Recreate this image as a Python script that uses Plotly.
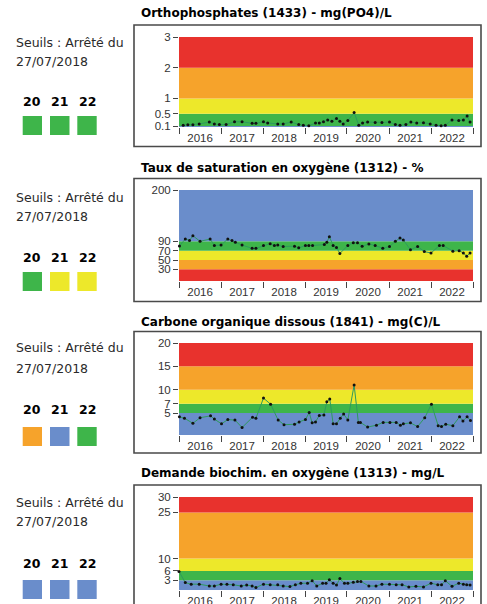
import plotly.graph_objects as go
import pandas as pd
import numpy as np

W, H = 487, 604

# ---------------- data (decimal years, values) ----------------
po4_t = [2016.10, 2016.21, 2016.33, 2016.48, 2016.72, 2016.84, 2016.96, 2017.12, 2017.32, 2017.50,
         2017.74, 2017.83, 2018.01, 2018.11, 2018.35, 2018.48, 2018.67, 2018.85, 2018.96, 2019.09,
         2019.25, 2019.34, 2019.44, 2019.54, 2019.64, 2019.75, 2019.83, 2019.91, 2020.02, 2020.17,
         2020.28, 2020.37, 2020.49, 2020.67, 2020.83, 2021.01, 2021.15, 2021.26, 2021.40, 2021.52,
         2021.66, 2021.82, 2021.98, 2022.12, 2022.24, 2022.34, 2022.50, 2022.66, 2022.77, 2022.86,
         2022.93]
po4_v = [0.13, 0.14, 0.14, 0.17, 0.23, 0.17, 0.15, 0.15, 0.24, 0.24,
         0.19, 0.19, 0.24, 0.20, 0.17, 0.17, 0.23, 0.15, 0.13, 0.11,
         0.20, 0.20, 0.24, 0.30, 0.26, 0.35, 0.26, 0.17, 0.28, 0.54,
         0.13, 0.20, 0.23, 0.22, 0.22, 0.23, 0.15, 0.13, 0.15, 0.23,
         0.20, 0.21, 0.17, 0.13, 0.11, 0.13, 0.30, 0.28, 0.30, 0.43,
         0.23]

o2_t = [2016.01, 2016.15, 2016.25, 2016.33, 2016.50, 2016.74, 2016.84, 2017.00, 2017.16, 2017.26,
        2017.34, 2017.50, 2017.74, 2017.83, 2018.01, 2018.17, 2018.27, 2018.35, 2018.48, 2018.75,
        2018.85, 2019.01, 2019.09, 2019.18, 2019.46, 2019.52, 2019.58, 2019.67, 2019.75, 2019.83,
        2020.02, 2020.15, 2020.25, 2020.36, 2020.52, 2020.67, 2020.85, 2021.01, 2021.15, 2021.26,
        2021.34, 2021.51, 2021.68, 2021.84, 2022.00, 2022.20, 2022.29, 2022.52, 2022.67, 2022.77,
        2022.85, 2022.93]
o2_v = [80, 95, 92, 102, 90, 95, 81, 82, 95, 92,
        88, 82, 75, 75, 81, 85, 81, 82, 79, 79.5,
        76, 81, 81, 81, 83, 88, 100, 81, 77, 64,
        81, 87, 87, 79.5, 84.5, 81, 75, 79, 90, 97,
        93, 72, 79, 68, 65, 81, 81, 69, 70, 65,
        58, 65]

cod_t = [2016.01, 2016.13, 2016.33, 2016.50, 2016.75, 2016.84, 2017.01, 2017.16, 2017.33, 2017.50,
         2017.75, 2017.83, 2018.01, 2018.18, 2018.36, 2018.50, 2018.75, 2018.86, 2019.01, 2019.10,
         2019.17, 2019.25, 2019.34, 2019.45, 2019.52, 2019.59, 2019.67, 2019.75, 2019.84, 2019.92,
         2020.02, 2020.17, 2020.27, 2020.32, 2020.49, 2020.70, 2020.86, 2021.02, 2021.17, 2021.27,
         2021.34, 2021.51, 2021.68, 2021.85, 2022.01, 2022.17, 2022.25, 2022.35, 2022.52, 2022.68,
         2022.76, 2022.86, 2022.94]
cod_v = [4.2, 3.9, 2.8, 4.0, 4.4, 3.7, 2.7, 3.6, 3.5, 1.9,
         4.1, 3.9, 8.2, 6.9, 3.5, 2.5, 2.6, 3.1, 3.6, 5.1,
         2.9, 3.1, 4.5, 4.6, 7.4, 8.0, 2.7, 2.7, 3.9, 4.8,
         3.5, 11.0, 3.0, 3.0, 2.0, 2.4, 3.0, 3.0, 3.0, 2.4,
         2.7, 2.9, 2.1, 4.0, 6.9, 2.3, 2.1, 2.6, 2.3, 4.2,
         3.3, 4.2, 3.4]

dbo_t = [2016.00, 2016.15, 2016.29, 2016.48, 2016.72, 2016.84, 2017.00, 2017.14, 2017.29, 2017.48,
         2017.61, 2017.74, 2017.83, 2018.01, 2018.17, 2018.35, 2018.48, 2018.64, 2018.77, 2018.90,
         2019.06, 2019.17, 2019.28, 2019.42, 2019.50, 2019.58, 2019.67, 2019.75, 2019.83, 2019.94,
         2020.02, 2020.15, 2020.25, 2020.33, 2020.52, 2020.69, 2020.83, 2021.01, 2021.17, 2021.31,
         2021.47, 2021.64, 2021.82, 2022.00, 2022.16, 2022.25, 2022.34, 2022.50, 2022.66, 2022.77,
         2022.85, 2022.93]
dbo_v = [5.8, 2.2, 1.7, 1.7, 1.1, 1.1, 1.7, 1.7, 1.5, 1.1,
         1.4, 1.1, 0.6, 1.7, 1.5, 1.5, 1.1, 0.9, 1.5, 2.0,
         2.0, 2.8, 1.1, 2.0, 2.0, 3.1, 2.0, 1.4, 3.5, 2.0,
         2.0, 2.3, 2.6, 2.6, 1.1, 1.1, 1.7, 1.7, 1.5, 1.5,
         0.8, 1.0, 0.8, 2.0, 1.5, 1.5, 2.8, 1.0, 2.0, 1.7,
         1.5, 1.4]

titles = ["Orthophosphates (1433) - mg(PO4)/L",
          "Taux de saturation en oxygène (1312) - %",
          "Carbone organique dissous (1841) - mg(C)/L",
          "Demande biochim. en oxygène (1313) - mg/L"]

# thresholds (band edges, bottom to top) and band colours
RED, ORA, YEL, GRE, BLU = "#E8322D", "#F6A32B", "#EDE82A", "#3EB54A", "#6A8DCB"
bands = [
    ([0.07, 0.1, 0.5, 1, 2, 3], [BLU, GRE, YEL, ORA, RED]),
    ([5, 30, 50, 70, 90, 200], [RED, ORA, YEL, GRE, BLU]),
    ([0.3, 5, 7, 10, 15, 20], [BLU, GRE, YEL, ORA, RED]),
    ([-0.2, 3, 6, 10, 25, 30], [BLU, GRE, YEL, ORA, RED]),
]
ytickvals = [[0.1, 0.5, 1, 2, 3], [30, 50, 70, 90, 200], [5, 7, 10, 15, 20], [3, 6, 10, 25, 30]]
yticktext = [["0.1", "0.5", "1", "2", "3"], ["30", "50", "70", "90", "200"],
             ["5", "7", "10", "15", "20"], ["3", "6", "10", "25", "30"]]

year_labels = ["20", "21", "22"]
status_colors = [[GRE, GRE, GRE], [GRE, YEL, YEL], [ORA, BLU, GRE], [BLU, BLU, BLU]]
seuil_line1 = "Seuils : Arrêté du"
seuil_line2 = "27/07/2018"

series = [(po4_t, po4_v), (o2_t, o2_v), (cod_t, cod_v), (dbo_t, dbo_v)]

# ---------------- layout geometry (pixels) ----------------
def px(x):
    return x / W

def py(y):
    return 1 - y / H

plot_x = (179, 473)
plot_y = [(37, 127), (190, 281), (343, 435), (497, 590)]
frame_y = [(25, 146.5), (178.5, 301.5), (331.5, 453), (485, 640)]
title_y = [13, 168, 322, 473]
seuil_y = [(42, 62), (197, 216), (348, 368), (502, 521)]
num_y = [101, 257, 409, 563]
sq_y = [(116, 135), (272, 291), (427, 446), (580, 599)]
sq_x = [(22.7, 42), (50, 69.5), (77.3, 96.7)]

def to_dates(t):
    t = np.asarray(t, dtype=float)
    yrs = np.floor(t).astype(int)
    out = []
    for yy, tt in zip(yrs, t):
        start = pd.Timestamp(year=int(yy), month=1, day=1)
        end = pd.Timestamp(year=int(yy) + 1, month=1, day=1)
        out.append(start + (end - start) * (tt - yy))
    return out

fig = go.Figure()
shapes = []
annotations = []
layout_axes = {}

for i in range(4):
    xa = "x" if i == 0 else f"x{i+1}"
    ya = "y" if i == 0 else f"y{i+1}"
    t, v = series[i]
    fig.add_trace(go.Scatter(
        x=to_dates(t), y=v, xaxis=xa, yaxis=ya, mode="lines+markers",
        line=dict(color="#2E9A5E", width=1),
        marker=dict(color="#111", size=3, symbol="circle"),
        showlegend=False, hoverinfo="skip", cliponaxis=False))

    edges, cols = bands[i]
    for k in range(len(cols)):
        shapes.append(dict(type="rect", xref=f"{xa} domain", yref=ya, x0=0, x1=1,
                           y0=edges[k], y1=edges[k + 1], fillcolor=cols[k],
                           line=dict(width=0), layer="below"))

    y0p, y1p = plot_y[i]
    layout_axes["xaxis" if i == 0 else f"xaxis{i+1}"] = dict(
        domain=[px(plot_x[0]), px(plot_x[1])], anchor=ya, type="date",
        range=["2016-01-01", "2023-01-01"], tick0="2016-01-01", dtick="M12",
        tickformat="%Y", ticklabelmode="period", ticks="outside", ticklen=6,
        tickwidth=1.3, tickcolor="#444", showgrid=False, zeroline=False, showline=False,
        ticklabelstandoff=-6,
        tickfont=dict(family="Liberation Sans", size=11.5, color="#333"), fixedrange=True)
    layout_axes["yaxis" if i == 0 else f"yaxis{i+1}"] = dict(
        domain=[py(y1p), py(y0p)], anchor=xa, range=[edges[0], edges[-1]],
        tickvals=ytickvals[i], ticktext=yticktext[i], ticks="outside", ticklen=5,
        tickwidth=1.3, tickcolor="#444", showgrid=False, zeroline=False, showline=False,
        tickfont=dict(family="Liberation Sans", size=11.5, color="#333"), fixedrange=True)

    # frame
    fy0, fy1 = frame_y[i]
    shapes.append(dict(type="rect", xref="paper", yref="paper", x0=px(134), x1=px(481),
                       y0=py(fy1), y1=py(fy0), line=dict(color="#4a4a4a", width=1.6),
                       fillcolor="rgba(0,0,0,0)"))
    # title
    annotations.append(dict(text=titles[i], xref="paper", yref="paper", x=px(139),
                            y=py(title_y[i]), xanchor="left", yanchor="middle", showarrow=False,
                            font=dict(family="DejaVu Sans", size=12, color="black", weight="bold")))
    # left text
    s1, s2 = seuil_y[i]
    for txt, yy in ((seuil_line1, s1), (seuil_line2, s2)):
        annotations.append(dict(text=txt, xref="paper", yref="paper", x=px(14), y=py(yy),
                                xanchor="left", yanchor="middle", showarrow=False,
                                font=dict(family="DejaVu Sans", size=12.5, color="#2a2a2a")))
    for k in range(3):
        cx = (sq_x[k][0] + sq_x[k][1]) / 2
        annotations.append(dict(text=year_labels[k], xref="paper", yref="paper", x=px(cx),
                                y=py(num_y[i]), xanchor="center", yanchor="middle",
                                showarrow=False,
                                font=dict(family="DejaVu Sans", size=12.5, color="black",
                                          weight="bold")))
        shapes.append(dict(type="rect", xref="paper", yref="paper", x0=px(sq_x[k][0]),
                           x1=px(sq_x[k][1]), y0=py(sq_y[i][1]), y1=py(sq_y[i][0]),
                           fillcolor=status_colors[i][k], line=dict(width=0)))

fig.update_layout(width=W, height=H, margin=dict(l=0, r=0, t=0, b=0, autoexpand=False),
                  paper_bgcolor="white", plot_bgcolor="white",
                  shapes=shapes, annotations=annotations, **layout_axes)

fig.write_html("out.html", config={"displayModeBar": False},
               post_script="document.body.style.margin='0';document.body.style.overflow='hidden';")
